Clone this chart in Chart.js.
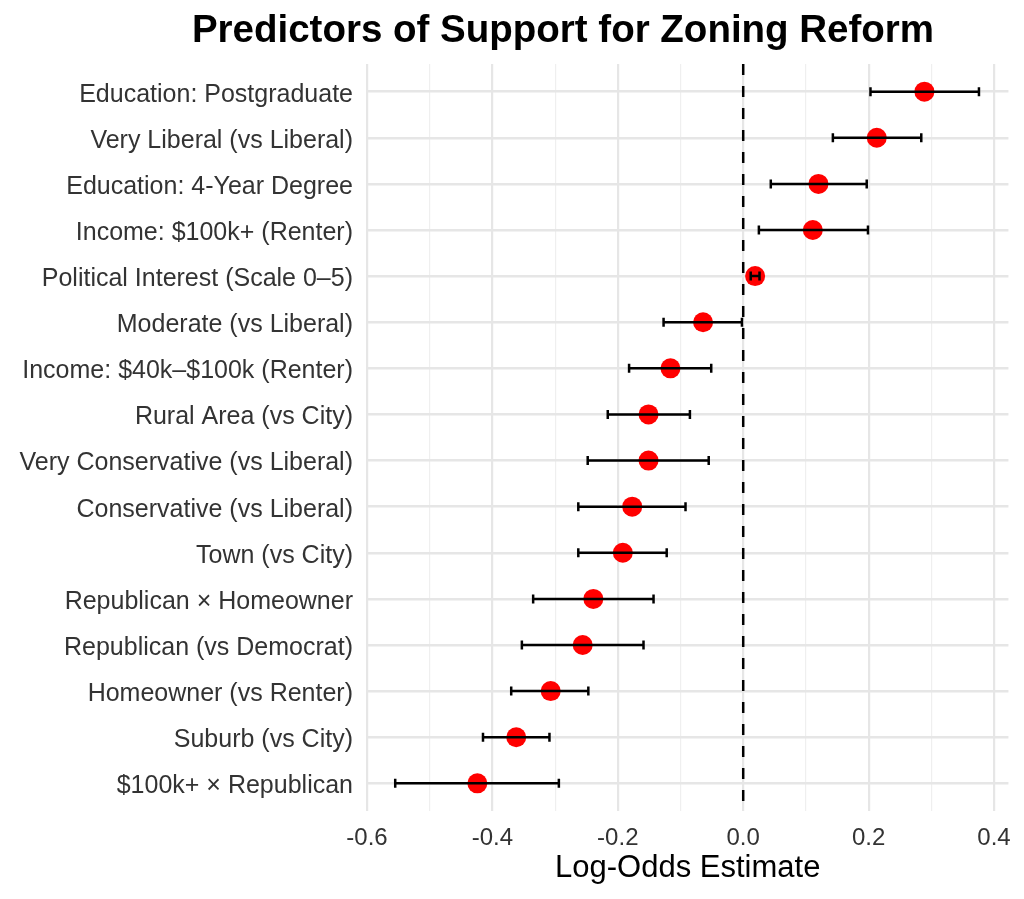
<!DOCTYPE html>
<html>
<head>
<meta charset="utf-8">
<script src="https://cdn.jsdelivr.net/npm/chart.js@4.4.0/dist/chart.umd.min.js"></script>
<style>
  html, body { margin: 0; padding: 0; background: #fff; }
  #wrap { width: 1024px; height: 899px; position: relative; }
</style>
</head>
<body>
<div id="wrap"><canvas id="forest"></canvas></div>
<script>
// predictors, top to bottom
const categories = [
    "Education: Postgraduate",
    "Very Liberal (vs Liberal)",
    "Education: 4-Year Degree",
    "Income: $100k+ (Renter)",
    "Political Interest (Scale 0–5)",
    "Moderate (vs Liberal)",
    "Income: $40k–$100k (Renter)",
    "Rural Area (vs City)",
    "Very Conservative (vs Liberal)",
    "Conservative (vs Liberal)",
    "Town (vs City)",
    "Republican × Homeowner",
    "Republican (vs Democrat)",
    "Homeowner (vs Renter)",
    "Suburb (vs City)",
    "$100k+ × Republican"
];
const estimates = [0.289, 0.213, 0.120, 0.111, 0.019, -0.064, -0.116, -0.151, -0.151, -0.177, -0.192, -0.239, -0.256, -0.307, -0.362, -0.424];
const lower     = [0.203, 0.143, 0.044, 0.025, 0.012, -0.127, -0.182, -0.216, -0.248, -0.263, -0.263, -0.335, -0.353, -0.370, -0.415, -0.555];
const upper     = [0.376, 0.284, 0.197, 0.199, 0.026, -0.002, -0.051, -0.085, -0.055, -0.092, -0.122, -0.143, -0.159, -0.247, -0.309, -0.294];

const xTickLabels = [-0.6, -0.4, -0.2, 0.0, 0.2, 0.4];
const xMinorLines = [-0.5, -0.3, -0.1, 0.1, 0.3];

const FONT = "'Liberation Sans', Arial, Helvetica, sans-serif";

const isMinor = v => xMinorLines.some(t => Math.abs(t - v) < 1e-9);

// dashed zero line goes under the points
const zeroLinePlugin = {
    id: 'zeroLine',
    beforeDatasetsDraw(chart) {
        const ctx = chart.ctx;
        const area = chart.chartArea;
        const x0 = chart.scales.x.getPixelForValue(0);
        ctx.save();
        ctx.strokeStyle = '#000';
        ctx.lineWidth = 2.5;
        ctx.setLineDash([11, 11]);
        ctx.beginPath();
        ctx.moveTo(x0, area.top);
        ctx.lineTo(x0, area.bottom);
        ctx.stroke();
        ctx.restore();
    }
};

// horizontal error bars sit on top of the points (like the original)
const errorBarsPlugin = {
    id: 'errorBars',
    afterDatasetsDraw(chart) {
        const ctx = chart.ctx;
        const xs = chart.scales.x, ys = chart.scales.y;
        ctx.save();
        ctx.strokeStyle = '#000';
        ctx.lineWidth = 2.5;
        for (let i = 0; i < categories.length; i++) {
            const y = ys.getPixelForValue(i);
            const xl = xs.getPixelForValue(lower[i]);
            const xu = xs.getPixelForValue(upper[i]);
            ctx.beginPath();
            ctx.moveTo(xl, y); ctx.lineTo(xu, y);
            ctx.moveTo(xl, y - 4.5); ctx.lineTo(xl, y + 4.5);
            ctx.moveTo(xu, y - 4.5); ctx.lineTo(xu, y + 4.5);
            ctx.stroke();
        }
        ctx.restore();
    }
};

const titlePlugin = {
    id: 'plotTitle',
    afterDraw(chart) {
        const ctx = chart.ctx;
        ctx.save();
        ctx.fillStyle = '#000';
        ctx.font = "bold 38.5px " + FONT;
        ctx.textAlign = 'center';
        ctx.textBaseline = 'alphabetic';
        ctx.fillText('Predictors of Support for Zoning Reform', 563, 42);
        ctx.restore();
    }
};

const ctx = document.getElementById('forest').getContext('2d');
const forest = new Chart(ctx, {
    type: 'scatter',
    data: {
        datasets: [{
            label: 'Estimate',
            data: estimates.map((v, i) => ({ x: v, y: i })),
            backgroundColor: '#ff0000',
            borderWidth: 0,
            pointRadius: 10,
            pointHoverRadius: 10
        }]
    },
    options: {
        responsive: true,
        maintainAspectRatio: false,
        animation: false,
        layout: { padding: { top: 64, right: 14, bottom: 0, left: 0 } },
        plugins: {
            legend: { display: false },
            title: { display: false },
            tooltip: { enabled: false }
        },
        scales: {
            x: {
                type: 'linear',
                min: -0.6,
                max: 0.423,
                afterBuildTicks: axis => {
                    axis.ticks = xTickLabels.concat(xMinorLines).sort((a, b) => a - b).map(v => ({ value: v }));
                },
                afterFit: axis => { axis.height = 88; },
                ticks: {
                    autoSkip: false,
                    maxRotation: 0,
                    padding: 13,
                    color: '#333',
                    font: { family: FONT, size: 24 },
                    callback: v => isMinor(v) ? '' : v.toFixed(1)
                },
                grid: {
                    drawTicks: false,
                    color: c => isMinor(c.tick.value) ? '#efefef' : '#e6e6e6',
                    lineWidth: c => isMinor(c.tick.value) ? 1.2 : 2.2
                },
                border: { display: false },
                title: {
                    display: true,
                    text: 'Log-Odds Estimate',
                    color: '#000',
                    font: { family: FONT, size: 31 },
                    padding: { top: 0, bottom: 12 }
                }
            },
            y: {
                type: 'linear',
                reverse: true,
                min: -0.6,
                max: 15.6,
                afterBuildTicks: axis => {
                    axis.ticks = categories.map((c, i) => ({ value: i }));
                },
                afterFit: axis => { axis.width = 367; },
                ticks: {
                    autoSkip: false,
                    padding: 14,
                    labelOffset: 3,
                    color: '#333',
                    font: { family: FONT, size: 25 },
                    callback: v => categories[v]
                },
                grid: {
                    drawTicks: false,
                    color: '#e6e6e6',
                    lineWidth: 2.4
                },
                border: { display: false }
            }
        }
    },
    plugins: [zeroLinePlugin, errorBarsPlugin, titlePlugin]
});
</script>
</body>
</html>
